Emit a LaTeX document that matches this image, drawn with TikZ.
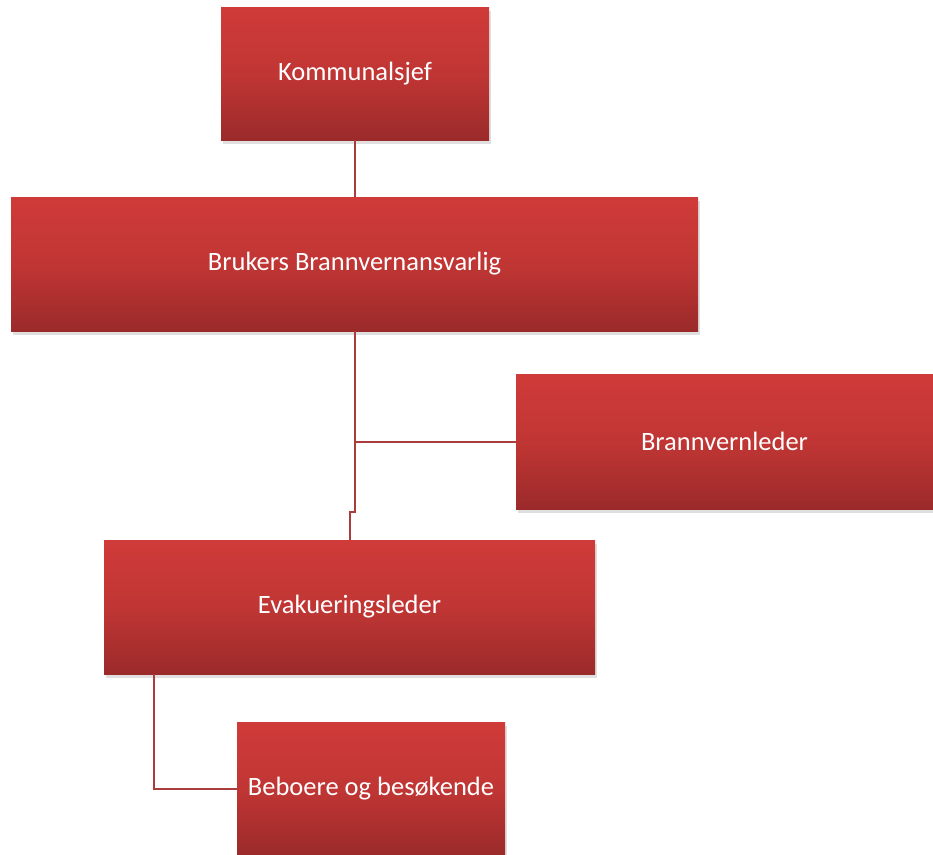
\documentclass[tikz,border=0pt]{standalone}
\usepackage{fontspec}
\setmainfont{Carlito}
\usetikzlibrary{shadows}
\definecolor{boxtop}{RGB}{207,59,57}
\definecolor{boxmid}{RGB}{192,54,52}
\definecolor{boxbottom}{RGB}{155,42,42}
\definecolor{linkred}{RGB}{170,60,60}
\begin{document}
\begin{tikzpicture}[x=1pt, y=-1pt,
            every node/.style = {rectangle, inner sep=0pt, text=white,
                font=\fontsize{26.5}{31}\selectfont,
                top color=boxtop, bottom color=boxbottom, middle color=boxmid,
                drop shadow={opacity=0.25, shadow xshift=2pt, shadow yshift=-4pt}},
            link/.style = {draw=linkred, line width=2pt}]
\useasboundingbox (0,0) rectangle (933,854);

\node[minimum width=268pt, minimum height=133pt] (komm) at (355,73.5) {Kommunalsjef};
\node[minimum width=687pt, minimum height=134pt] (bruk) at (354.5,264) {Brukers Brannvernansvarlig};
\node[minimum width=417pt, minimum height=135pt] (brann) at (724.5,441.5) {Brannvernleder};
\node[minimum width=491pt, minimum height=134pt] (evak) at (349.5,607) {Evakueringsleder};
\node[minimum width=268pt, minimum height=133pt] (bebo) at (371,788.5) {Beboere og besøkende};

% connectors
\draw[link] (komm.south) -- (komm.south |- bruk.north);
\draw[link] (bruk.south) -- ([yshift=28pt]evak.north -| bruk.south)
    -- ([yshift=28pt]evak.north) -- (evak.north);
\draw[link] (bruk.south |- brann.west) -- (brann.west);
\draw[link] ([xshift=-196pt]evak.south) |- (bebo.west);

\end{tikzpicture}
\end{document}
